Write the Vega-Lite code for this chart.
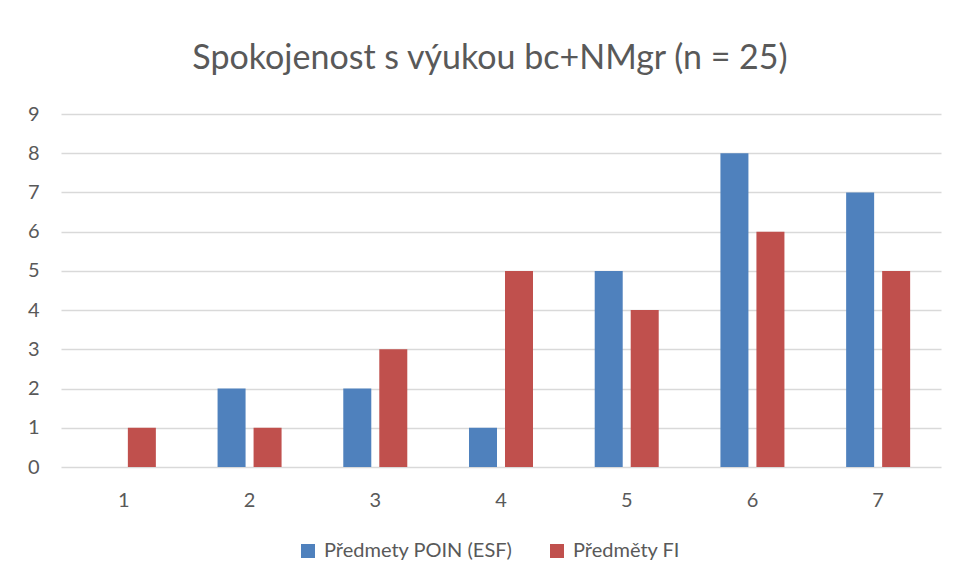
{
  "$schema": "https://vega.github.io/schema/vega-lite/v6.json",
  "width": 880,
  "height": 353,
  "autosize": {"type": "none"},
  "padding": {"left": 61, "top": 114, "right": 14, "bottom": 116},
  "background": "white",
  "title": {
    "text": "Spokojenost s výukou bc+NMgr (n = 25)",
    "font": "Lato",
    "fontSize": 34,
    "fontWeight": "normal",
    "color": "#595959",
    "anchor": "middle",
    "frame": "group",
    "dx": -11,
    "offset": 28
  },
  "data": {
    "values": [
      {"kat": "1", "serie": "Předmety POIN (ESF)", "pocet": 0},
      {"kat": "1", "serie": "Předměty FI", "pocet": 1},
      {"kat": "2", "serie": "Předmety POIN (ESF)", "pocet": 2},
      {"kat": "2", "serie": "Předměty FI", "pocet": 1},
      {"kat": "3", "serie": "Předmety POIN (ESF)", "pocet": 2},
      {"kat": "3", "serie": "Předměty FI", "pocet": 3},
      {"kat": "4", "serie": "Předmety POIN (ESF)", "pocet": 1},
      {"kat": "4", "serie": "Předměty FI", "pocet": 5},
      {"kat": "5", "serie": "Předmety POIN (ESF)", "pocet": 5},
      {"kat": "5", "serie": "Předměty FI", "pocet": 4},
      {"kat": "6", "serie": "Předmety POIN (ESF)", "pocet": 8},
      {"kat": "6", "serie": "Předměty FI", "pocet": 6},
      {"kat": "7", "serie": "Předmety POIN (ESF)", "pocet": 7},
      {"kat": "7", "serie": "Předměty FI", "pocet": 5}
    ]
  },
  "mark": {"type": "bar"},
  "encoding": {
    "x": {
      "field": "kat",
      "type": "ordinal",
      "scale": {"paddingInner": 0, "paddingOuter": 0},
      "axis": {
        "title": null,
        "labelAngle": 0,
        "domain": false,
        "ticks": false,
        "grid": false,
        "labelFont": "Lato",
        "labelFontSize": 20,
        "labelColor": "#595959",
        "labelPadding": 23
      }
    },
    "xOffset": {
      "field": "serie",
      "type": "nominal",
      "sort": ["Předmety POIN (ESF)", "Předměty FI"],
      "scale": {"paddingInner": 0.2222, "paddingOuter": 0.857}
    },
    "y": {
      "field": "pocet",
      "type": "quantitative",
      "scale": {"domain": [0, 9], "nice": false},
      "axis": {
        "title": null,
        "values": [0, 1, 2, 3, 4, 5, 6, 7, 8, 9],
        "domain": false,
        "ticks": false,
        "gridColor": "#d9d9d9",
        "gridWidth": 1.3,
        "labelFont": "Lato",
        "labelFontSize": 20,
        "labelColor": "#595959",
        "labelPadding": 22
      }
    },
    "color": {
      "field": "serie",
      "type": "nominal",
      "sort": ["Předmety POIN (ESF)", "Předměty FI"],
      "scale": {"domain": ["Předmety POIN (ESF)", "Předměty FI"], "range": ["#4f81bd", "#c0504d"]},
      "legend": {
        "title": null,
        "orient": "none",
        "direction": "horizontal",
        "legendX": 237,
        "legendY": 427,
        "symbolType": "square",
        "symbolSize": 196,
        "symbolStrokeWidth": 0,
        "labelFont": "Lato",
        "labelFontSize": 20,
        "labelLimit": 400,
        "labelColor": "#595959",
        "labelOffset": 6,
        "columnPadding": 34
      }
    }
  },
  "config": {"view": {"stroke": null}}
}
